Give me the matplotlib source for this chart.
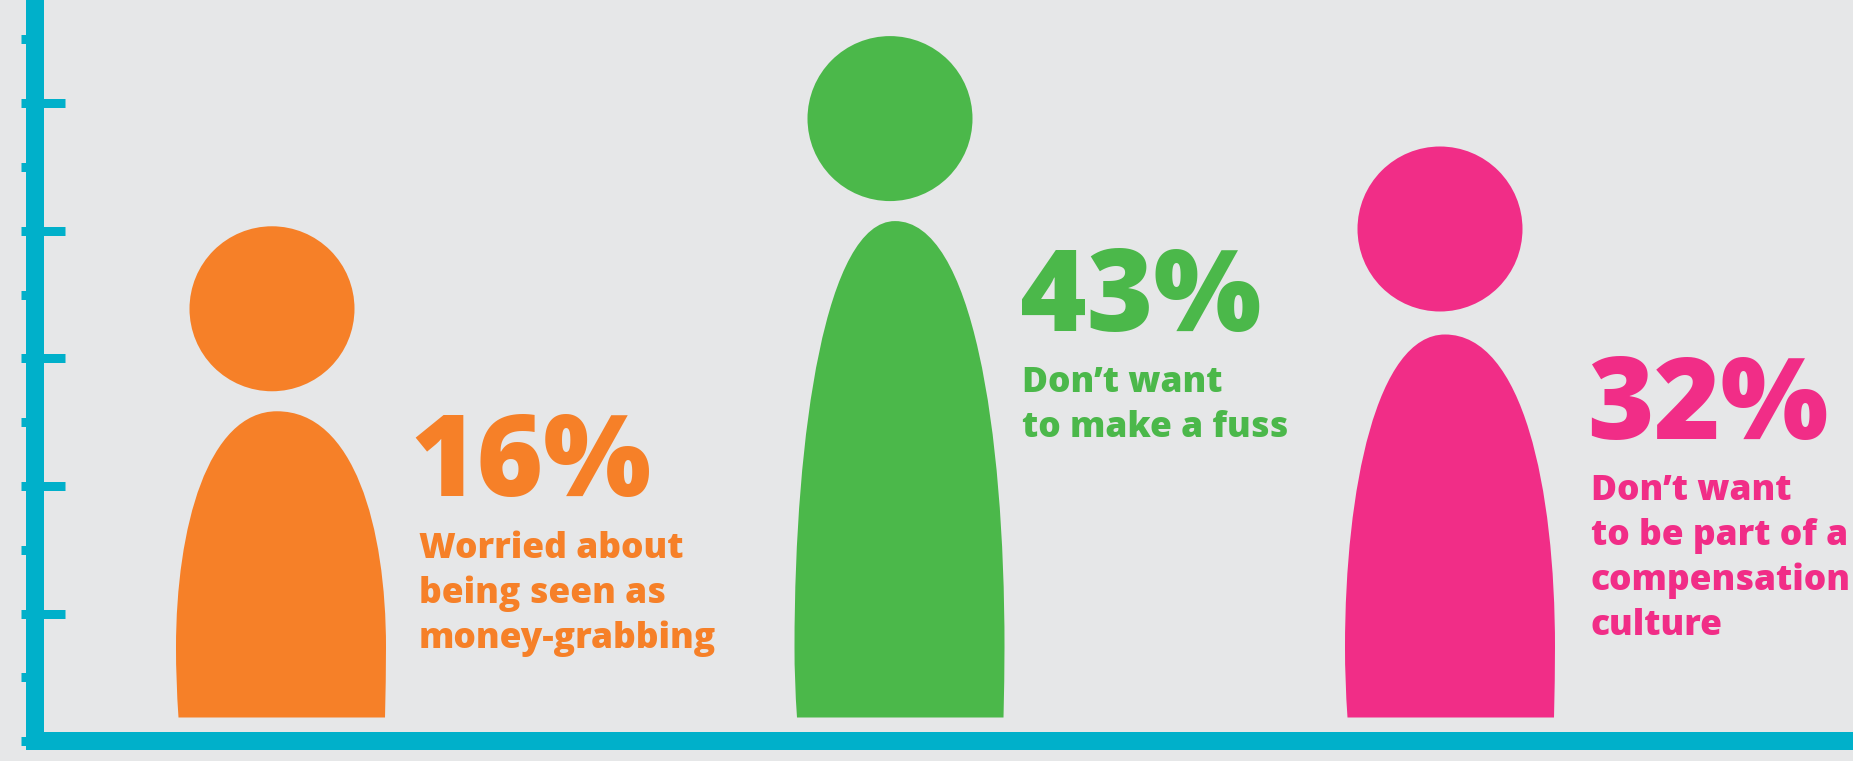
import matplotlib
matplotlib.use('Agg')
from matplotlib import pyplot as plt
from matplotlib.patches import Ellipse, PathPatch
from matplotlib.path import Path
import numpy as np

percents = ['16%', '43%', '32%']
captions = [
    ['Worried about', 'being seen as', 'money-grabbing'],
    ['Don’t want', 'to make a fuss'],
    ['Don’t want', 'to be part of a', 'compensation', 'culture'],
]
# height of each figure measured on the axis ticks
figure_heights = [8.07, 11.05, 9.32]
colors = ['#F68028', '#4BB84A', '#F12D87']

W, H = 1853, 761
TICK = 63.82      # pixels per axis unit
ZERO = 741.3      # pixel row of the axis baseline
PX = 0.72         # points per pixel at dpi 100

head_x = [272, 890, 1440]
body_x = [281, 899.5, 1450]
body_apex = [277, 895, 1445]
body_gap = [20, 20, 23]
text_x = [410, 1020, 1587]
pct_base = [496, 331, 439]
cap_x = [419, 1022, 1591]
cap_base = [558, 392, 500]

HEAD = 165
BODY_HALF = 105
BASE = 717.5
FONT = 'Open Sans'


def y_of(px):
    return (ZERO - px) / TICK


fig = plt.figure(figsize=(W / 100, H / 100), dpi=100, facecolor='#E6E7E8')
ax = fig.add_axes([0, 0, 1, 1], facecolor='#E6E7E8')
ax.set_xlim(0, W)
ax.set_ylim(y_of(H), y_of(0))

for i, h in enumerate(figure_heights):
    c = colors[i]
    top = ZERO - h * TICK
    ax.add_patch(Ellipse((head_x[i], y_of(top + HEAD / 2)), HEAD, HEAD / TICK, fc=c, ec='none'))

    # body outline: cubic curves from the base to the widest row, then up to the apex
    apex = top + HEAD + body_gap[i]
    wide = BASE - 70
    c1 = wide - 0.51 * (wide - apex)
    l, r = body_x[i] - BODY_HALF, body_x[i] + BODY_HALF
    outline = [
        (l + 2.5, BASE), (l + 0.8, BASE - 25), (l, BASE - 48), (l, wide),
        (l, c1), (l + 32, apex), (body_apex[i], apex),
        (r - 32, apex), (r, c1), (r, wide),
        (r, BASE - 48), (r - 0.5, BASE - 25), (r - 1, BASE), (l + 2.5, BASE),
    ]
    codes = [Path.MOVETO] + [Path.CURVE4] * 12 + [Path.CLOSEPOLY]
    ax.add_patch(PathPatch(Path([(x, y_of(y)) for x, y in outline], codes), fc=c, ec='none'))

    ax.text(text_x[i], y_of(pct_base[i]), percents[i], color=c, fontsize=82,
            family=FONT, weight='heavy', va='baseline', ha='left')
    for j, line in enumerate(captions[i]):
        ax.text(cap_x[i], y_of(cap_base[i] + 45 * j), line, color=c, fontsize=25.5,
                family=FONT, weight='heavy', va='baseline', ha='left')

teal = '#00B0CA'
for s in ['top', 'right']:
    ax.spines[s].set_visible(False)
for s in ['left', 'bottom']:
    ax.spines[s].set_color(teal)
    ax.spines[s].set_linewidth(18 * PX)
    ax.spines[s].set_capstyle('butt')
ax.spines['left'].set_position(('data', 34.5))
ax.spines['bottom'].set_position(('data', 0))
ax.spines['left'].set_bounds(-9 / TICK, y_of(0))
ax.spines['bottom'].set_bounds(25.5, W)

ax.set_xticks([])
ax.set_yticks(np.arange(0, 12))
ax.set_yticks(np.arange(2, 12, 2), minor=True)
ax.yaxis.remove_overlapping_locs = False
ax.tick_params(axis='y', which='major', direction='out', length=14.5 * PX, width=9 * PX,
               color=teal, labelleft=False)
ax.tick_params(axis='y', which='minor', direction='in', length=29.5 * PX, width=9 * PX,
               color=teal, labelleft=False)

fig.savefig('out.png', dpi=100, facecolor=fig.get_facecolor())
